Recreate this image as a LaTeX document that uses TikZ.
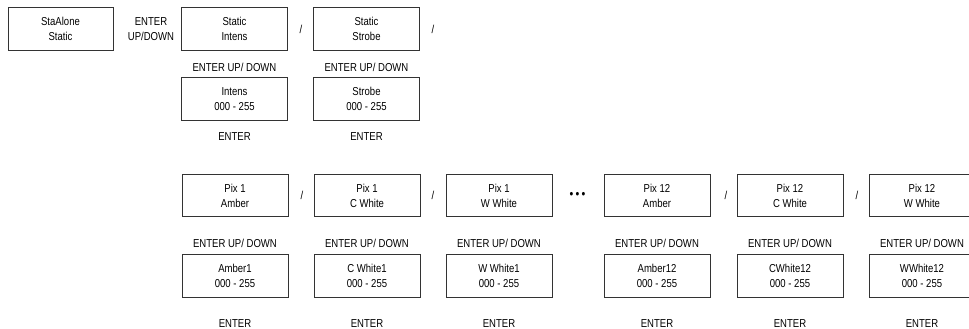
\documentclass[tikz,border=0pt]{standalone}
\usepackage{fontspec}
\setmainfont{Liberation Sans}[FakeStretch=0.83]
\begin{document}
\begin{tikzpicture}[x=1pt,y=-1pt,
  every node/.style={font=\fontsize{11.5}{15}\selectfont, text=black, inner sep=0pt},
  menubox/.style={draw=black!80, line width=0.9pt, minimum width=106pt, minimum height=42.5pt, align=center},
  lbl/.style={align=center},
  sep/.style={}]
\useasboundingbox (0,0) rectangle (969,329);
% top row
\node[menubox, minimum width=105pt] (sa) at (60.5,29) {StaAlone\\Static};
\node[lbl] (eud) at (151,29) {ENTER\\UP/DOWN};
\node[menubox] (si) at (234.5,29) {Static\\Intens};
\node[sep] (s1) at (301,29) {/};
\node[menubox] (ss) at (366.5,29) {Static\\Strobe};
\node[sep] (s2) at (433,29) {/};
\node[lbl] (l1) at (234.5,67) {ENTER UP/ DOWN};
\node[lbl] (l2) at (366.5,67) {ENTER UP/ DOWN};
\node[menubox] (iv) at (234.5,99) {Intens\\000 - 255};
\node[menubox] (sv) at (366.5,99) {Strobe\\000 - 255};
\node[lbl] (e1) at (234.5,137) {ENTER};
\node[lbl] (e2) at (366.5,137) {ENTER};
% bottom row
\foreach \n/\x/\t/\v in {a/235/{Pix 1\\Amber}/{Amber1\\000 - 255},
                         b/367/{Pix 1\\C White}/{C White1\\000 - 255},
                         c/499/{Pix 1\\W White}/{W White1\\000 - 255},
                         d/657/{Pix 12\\Amber}/{Amber12\\000 - 255},
                         e/790/{Pix 12\\C White}/{CWhite12\\000 - 255},
                         f/922/{Pix 12\\W White}/{WWhite12\\000 - 255}}{
  \node[menubox] (p\n) at (\x,195.5) {\t};
  \node[lbl] (u\n) at (\x,243) {ENTER UP/ DOWN};
  \node[menubox] (v\n) at (\x,276) {\v};
  \node[lbl] (x\n) at (\x,323.5) {ENTER};
}
\node[sep] (s3) at (302,195) {/};
\node[sep] (s4) at (433,195) {/};
\node[sep] (s5) at (726,195) {/};
\node[sep] (s6) at (857,195) {/};
\node (dots) at (577.5,195) {\fontsize{13}{13}\selectfont\textbullet\,\textbullet\,\textbullet};
\end{tikzpicture}
\end{document}
